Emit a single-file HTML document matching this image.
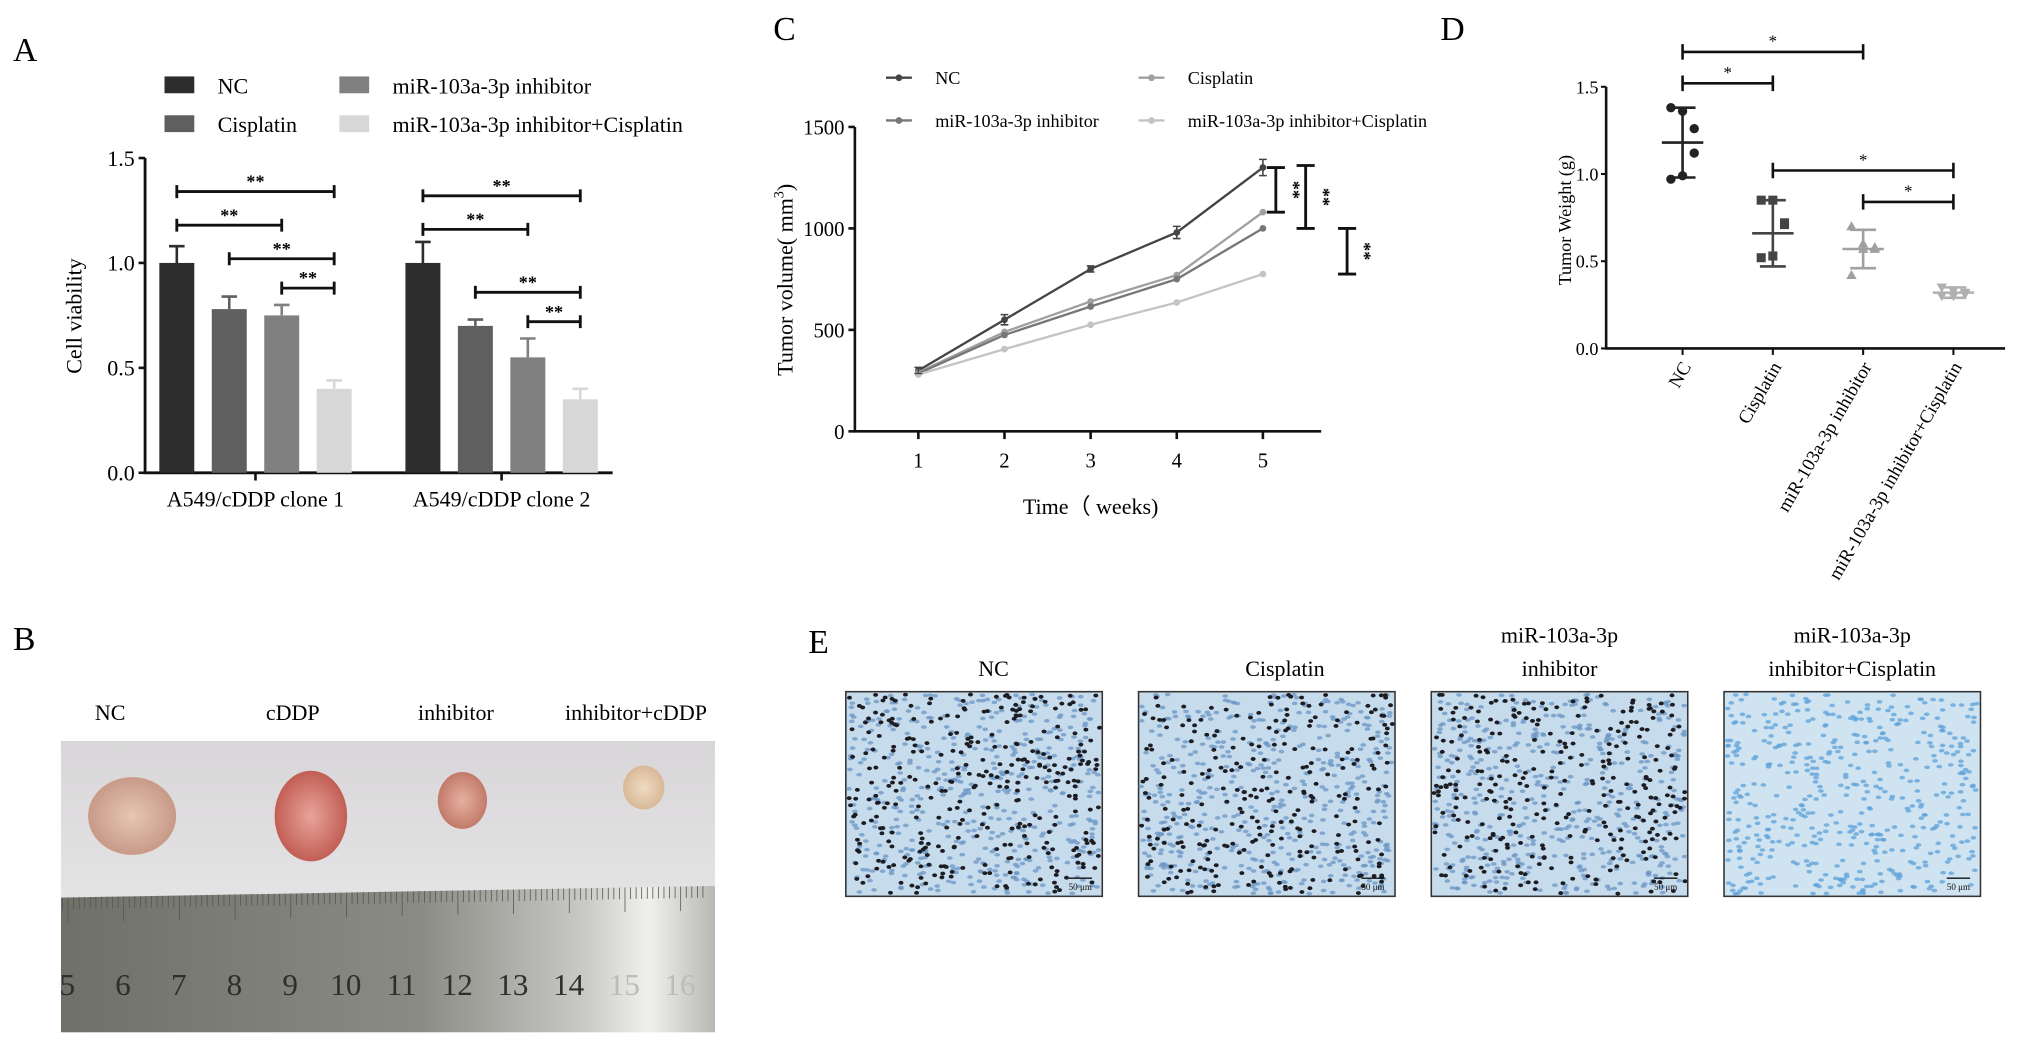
<!DOCTYPE html>
<html><head><meta charset="utf-8"><style>
html,body{margin:0;padding:0;background:#fff;}
svg{display:block;font-family:"Liberation Serif",serif;}
</style></head><body>
<svg id="fig" width="2031" height="1044" viewBox="0 0 1568 806">
<rect width="1568" height="806" fill="#fff"/>
<defs>
<linearGradient id="rulerG" x1="0" y1="0" x2="1" y2="0">
<stop offset="0" stop-color="#6f7068"/><stop offset="0.55" stop-color="#8a8b84"/><stop offset="0.8" stop-color="#c9cac6"/><stop offset="0.9" stop-color="#f0f0ee"/><stop offset="1" stop-color="#b7b8b2"/>
</linearGradient>
<linearGradient id="bgG" x1="0" y1="0" x2="0" y2="1">
<stop offset="0" stop-color="#d8d6d8"/><stop offset="1" stop-color="#efeeef"/>
</linearGradient>
<radialGradient id="t1"><stop offset="0" stop-color="#e6c6b4"/><stop offset="1" stop-color="#c89a88"/></radialGradient>
<radialGradient id="t2"><stop offset="0" stop-color="#e8a49a"/><stop offset="1" stop-color="#c25e55"/></radialGradient>
<radialGradient id="t3"><stop offset="0" stop-color="#e6b0a0"/><stop offset="1" stop-color="#c27a6a"/></radialGradient>
<radialGradient id="t4"><stop offset="0" stop-color="#f0dcc2"/><stop offset="1" stop-color="#d8b898"/></radialGradient>
<clipPath id="photoClip"><rect x="47" y="572" width="505" height="225"/></clipPath>
</defs>

<text x="10" y="47" font-size="26">A</text>
<text x="597" y="31" font-size="26">C</text>
<text x="1112" y="31" font-size="26">D</text>
<text x="10" y="502" font-size="26">B</text>
<text x="624" y="504" font-size="26">E</text>

<g id="panelA"></g>
<g id="panelC"></g>
<g id="panelD"></g>

<g>
<text x="85" y="556" font-size="17" text-anchor="middle">NC</text>
<text x="226" y="556" font-size="17" text-anchor="middle">cDDP</text>
<text x="352" y="556" font-size="17" text-anchor="middle">inhibitor</text>
<text x="491" y="556" font-size="17" text-anchor="middle">inhibitor+cDDP</text>
<g clip-path="url(#photoClip)">
<rect x="47" y="572" width="505" height="225" fill="url(#bgG)"/>
<polygon points="47,693 552,684 552,797 47,797" fill="url(#rulerG)"/>
<g id="rulerTicks"></g>
</g>
<ellipse cx="102" cy="630" rx="34" ry="30" fill="url(#t1)"/>
<ellipse cx="240" cy="630" rx="28" ry="35" fill="url(#t2)"/>
<ellipse cx="357" cy="618" rx="19" ry="22" fill="url(#t3)"/>
<ellipse cx="497" cy="608" rx="16" ry="17" fill="url(#t4)"/>
</g>

<g id="panelE">
<text x="767" y="522" font-size="17" text-anchor="middle">NC</text>
<text x="992" y="522" font-size="17" text-anchor="middle">Cisplatin</text>
<text x="1204" y="496" font-size="17" text-anchor="middle"><tspan x="1204">miR-103a-3p</tspan><tspan x="1204" dy="26">inhibitor</tspan></text>
<text x="1430" y="496" font-size="17" text-anchor="middle"><tspan x="1430">miR-103a-3p</tspan><tspan x="1430" dy="26">inhibitor+Cisplatin</tspan></text>
</g>
</svg>

<script>
const NS='http://www.w3.org/2000/svg';
function mk(parent,tag,attrs,txt){const e=document.createElementNS(NS,tag);for(const k in attrs)e.setAttribute(k,attrs[k]);if(txt!==undefined)e.textContent=txt;parent.appendChild(e);return e;}

// ===== Panel A data =====
const aGroups=['A549/cDDP clone 1','A549/cDDP clone 2'];
const aSeries=['NC','Cisplatin','miR-103a-3p inhibitor','miR-103a-3p inhibitor+Cisplatin'];
const aMeans=[[1.00,0.78,0.75,0.40],[1.00,0.70,0.55,0.35]];
const aErrs=[[0.08,0.06,0.05,0.04],[0.10,0.03,0.09,0.05]];
const aTicks=[0,0.5,1.0,1.5];
const aTickLabels=['0.0','0.5','1.0','1.5'];
const aColors=['#2d2d2d','#5f5f5f','#808080','#d7d7d7'];
const aSig=[[0,0,3,1.34],[0,0,2,1.18],[0,1,3,1.02],[0,2,3,0.88],[1,0,3,1.32],[1,0,2,1.16],[1,1,3,0.86],[1,2,3,0.72]];

(function(){
const g=document.getElementById('panelA');
const x0=112,x1=473,yb=365,yt=122;
const y=v=>yb-(v/1.5)*(yb-yt);
const gx=[123,313],bw=27,step=40.5;
const bx=(gi,bi)=>gx[gi]+bi*step;
[[0,127,59],[1,127,89],[2,262,59],[3,262,89]].forEach(([s,lx,ly])=>{
 const r=mk(g,'rect',{x:lx,y:ly,width:23,height:13,fill:aColors[s]});
 
 
 const t=mk(g,'text',{x:lx+41,y:ly+13,'font-size':17},aSeries[s]);
 
 
});
const ax=mk(g,'path',{d:`M${x0} ${yt}V${yb}H${x1}`,stroke:'#111','stroke-width':2.2,fill:'none'});


aTicks.forEach((v,i)=>{
 mk(g,'line',{x1:x0-5,x2:x0,y1:y(v),y2:y(v),stroke:'#111','stroke-width':2});
 const t=mk(g,'text',{x:x0-8,y:y(v)+6,'font-size':17,'text-anchor':'end'},aTickLabels[i]);
 
 
});
const yl=mk(g,'text',{x:0,y:0,'font-size':17,'text-anchor':'middle',transform:`translate(63,244) rotate(-90)`},'Cell viability');


aGroups.forEach((name,gi)=>{
 const cx=bx(gi,0)+(3*step+bw)/2;
 mk(g,'line',{x1:cx,x2:cx,y1:yb,y2:yb+6,stroke:'#111','stroke-width':2});
 const t=mk(g,'text',{x:cx,y:yb+26,'font-size':17,'text-anchor':'middle'},name);
 
 
 aMeans[gi].forEach((m,bi)=>{
  const X=bx(gi,bi),top=y(m),et=y(m+aErrs[gi][bi]);
  const r=mk(g,'rect',{x:X,y:top,width:bw,height:yb-top,fill:aColors[bi]});
  
  
  mk(g,'path',{d:`M${X+bw/2} ${top}V${et}M${X+bw/2-6} ${et}H${X+bw/2+6}`,stroke:aColors[bi],'stroke-width':2});
 });
});
aSig.forEach(([gi,a,b,v])=>{
 const xa=bx(gi,a)+bw/2,xb=bx(gi,b)+bw/2,yy=y(v);
 const p=mk(g,'path',{d:`M${xa} ${yy-5}V${yy+5}M${xa} ${yy}H${xb}M${xb} ${yy-5}V${yy+5}`,stroke:'#111','stroke-width':2.2,fill:'none'});
 
 
 mk(g,'text',{x:(xa+xb)/2,y:yy-3,'font-size':14,'text-anchor':'middle','font-weight':'bold'},'**');
});
})();

// ===== Panel C data =====
const cWeeks=[1,2,3,4,5];
const cNC=[300,550,800,980,1300];
const cCis=[290,490,640,770,1080];
const cInh=[285,475,615,750,1000];
const cCombo=[280,405,525,635,775];
const cNCerr=[15,25,15,30,40];
const cYTicks=[0,500,1000,1500];
const cSeriesNames=['NC','Cisplatin','miR-103a-3p inhibitor','miR-103a-3p inhibitor+Cisplatin'];
const cColors=['#444','#a0a0a0','#777','#c4c4c4'];
const cSig=[[1300,1080,985],[1310,1000,1008],[1000,775,1040]];

(function(){
const g=document.getElementById('panelC');
const x0=660,x1=1020,yb=333,yt=98;
const y=v=>yb-(v/1500)*(yb-yt);
const x=w=>709+(w-1)*66.5;
mk(g,'path',{d:`M${x0} ${yt}V${yb}H${x1}`,stroke:'#111','stroke-width':2,fill:'none'});
cYTicks.forEach(v=>{
 mk(g,'line',{x1:x0-5,x2:x0,y1:y(v),y2:y(v),stroke:'#111','stroke-width':2});
 const t=mk(g,'text',{x:x0-8,y:y(v)+6,'font-size':16,'text-anchor':'end'},String(v));
 
 
});
cWeeks.forEach(w=>{
 mk(g,'line',{x1:x(w),x2:x(w),y1:yb,y2:yb+6,stroke:'#111','stroke-width':2});
 const t=mk(g,'text',{x:x(w),y:yb+28,'font-size':16,'text-anchor':'middle'},String(w));
 
 
});
const xt=mk(g,'text',{x:842,y:397,'font-size':17,'text-anchor':'middle'},'Time（ weeks)');


const yt2=mk(g,'text',{x:0,y:0,'font-size':17,'text-anchor':'middle',transform:'translate(612,216) rotate(-90)'});
mk(yt2,'tspan',{},'Tumor volume( mm');
mk(yt2,'tspan',{dy:-7,'font-size':11},'3');
mk(yt2,'tspan',{dy:7},')');


const series=[cNC,cCis,cInh,cCombo];
series.forEach((s,si)=>{
 const pl=mk(g,'polyline',{points:s.map((v,i)=>x(cWeeks[i])+','+y(v)).join(' '),fill:'none',stroke:cColors[si],'stroke-width':1.8});
 
 
 s.forEach((v,i)=>{
  const c=mk(g,'circle',{cx:x(cWeeks[i]),cy:y(v),r:2.6,fill:cColors[si]});
  
  
 });
});
cNC.forEach((v,i)=>{
 const e=cNCerr[i],X=x(cWeeks[i]);
 mk(g,'path',{d:`M${X} ${y(v+e)}V${y(v-e)}M${X-3} ${y(v+e)}H${X+3}M${X-3} ${y(v-e)}H${X+3}`,stroke:'#444','stroke-width':1.2});
});
[[0,684,60],[1,879,60],[2,684,93],[3,879,93]].forEach(([s,lx,ly])=>{
 mk(g,'line',{x1:lx,x2:lx+20,y1:ly,y2:ly,stroke:cColors[s],'stroke-width':1.8});
 mk(g,'circle',{cx:lx+10,cy:ly,r:2.6,fill:cColors[s]});
 const t=mk(g,'text',{x:lx+38,y:ly+5,'font-size':14},cSeriesNames[s]);
 
 
});
cSig.forEach(([a,b,bx])=>{
 const ya=y(a),yb2=y(b);
 const p=mk(g,'path',{d:`M${bx-7} ${ya}H${bx+7}M${bx} ${ya}V${yb2}M${bx-7} ${yb2}H${bx+7}`,stroke:'#111','stroke-width':2.2,fill:'none'});
 
 
 mk(g,'text',{x:0,y:0,'font-size':14,'font-weight':'bold','text-anchor':'middle',transform:`translate(${bx+9},${(ya+yb2)/2}) rotate(90)`},'**');
});
})();

// ===== Panel D data =====
const dCats=['NC','Cisplatin','miR-103a-3p  inhibitor','miR-103a-3p inhibitor+Cisplatin'];
const dPoints=[[1.38,1.36,1.26,1.12,0.99,0.97],[0.85,0.85,0.72,0.71,0.53,0.52],[0.70,0.60,0.58,0.57,0.57,0.42],[0.35,0.33,0.32,0.31,0.30,0.30]];
const dMeans=[1.18,0.66,0.57,0.32];
const dSD=[0.20,0.19,0.11,0.03];
const dYTicks=[0,0.5,1.0,1.5];
const dYLabels=['0.0','0.5','1.0','1.5'];
const dColors=['#222','#444','#a0a0a0','#b0b0b0'];
const dSig=[[0,2,1.70],[0,1,1.52],[1,3,1.02],[2,3,0.84]];

(function(){
const g=document.getElementById('panelD');
const x0=1240,x1=1548,yb=269,yt=67;
const y=v=>yb-(v/1.5)*(yb-yt);
const x=i=>1299+i*69.7;
mk(g,'path',{d:`M${x0} ${yt}V${yb}H${x1}`,stroke:'#111','stroke-width':2,fill:'none'});
dYTicks.forEach((v,i)=>{
 mk(g,'line',{x1:x0-4,x2:x0,y1:y(v),y2:y(v),stroke:'#111','stroke-width':1.6});
 const t=mk(g,'text',{x:x0-6,y:y(v)+5,'font-size':14,'text-anchor':'end'},dYLabels[i]);
 
 
});
const ylab=mk(g,'text',{x:0,y:0,'font-size':14,'text-anchor':'middle',transform:'translate(1213,170) rotate(-90)'},'Tumor Weight (g)');


dCats.forEach((c,i)=>{
 mk(g,'line',{x1:x(i),x2:x(i),y1:yb,y2:yb+5,stroke:'#111','stroke-width':1.6});
 const t=mk(g,'text',{x:0,y:0,'font-size':14.5,'text-anchor':'end',transform:`translate(${x(i)+7},${yb+14}) rotate(-60)`},c);
 
 
 const m=dMeans[i],s=dSD[i],X=x(i);
 mk(g,'path',{d:`M${X-16} ${y(m)}H${X+16}M${X} ${y(m+s)}V${y(m-s)}M${X-10} ${y(m+s)}H${X+10}M${X-10} ${y(m-s)}H${X+10}`,stroke:dColors[i],'stroke-width':2,fill:'none'});
 dPoints[i].forEach((v,j)=>{
  const px=X+((j%3)-1)*9*(j<3?1:-1);
  let el;
  if(i===0) el=mk(g,'circle',{cx:px,cy:y(v),r:3.6,fill:dColors[i]});
  else if(i===1) el=mk(g,'rect',{x:px-3.5,y:y(v)-3.5,width:7,height:7,fill:dColors[i]});
  else if(i===2) el=mk(g,'path',{d:`M${px} ${y(v)-4}L${px+4} ${y(v)+3}L${px-4} ${y(v)+3}Z`,fill:dColors[i]});
  else el=mk(g,'path',{d:`M${px} ${y(v)+4}L${px+4} ${y(v)-3}L${px-4} ${y(v)-3}Z`,fill:dColors[i]});
  
  
 });
});
dSig.forEach(([a,b,v])=>{
 const yy=y(v);
 const p=mk(g,'path',{d:`M${x(a)} ${yy-6}V${yy+6}M${x(a)} ${yy}H${x(b)}M${x(b)} ${yy-6}V${yy+6}`,stroke:'#111','stroke-width':2,fill:'none'});
 
 
 mk(g,'text',{x:(x(a)+x(b))/2,y:yy-4,'font-size':13,'text-anchor':'middle'},'*');
});
})();

// ===== Ruler marks =====
(function(){
const g=document.getElementById('rulerTicks');
const nums=['5','6','7','8','9','10','11','12','13','14','15','16'];
nums.forEach((n,i)=>{
 const X=52+i*43;
 const t=mk(g,'text',{x:X,y:768,'font-size':24,'text-anchor':'middle',fill:i>=10?'#bbb':'#2e2e2a'},n);
 
 
 for(let k=0;k<10;k++){const xx=X-21+k*4.3;mk(g,'line',{x1:xx,x2:xx,y1:693-(xx-47)*0.018,y2:(k===5?712:702)-(xx-47)*0.018,stroke:'#55554f','stroke-width':0.6});}
});
})();

// ===== IHC images (texture) =====
(function(){
const g=document.getElementById('panelE');
const xs=[653,879,1105,1331],w=198,h=158,y0=534;
const dens=[330,270,300,0];
let seed=12345;const rnd=()=>{seed=(seed*1103515245+12345)%2147483648;return seed/2147483648;};
xs.forEach((X,k)=>{
 const r=mk(g,'rect',{x:X,y:y0,width:w,height:h,fill:k===3?'#cfe3f1':'#c6dbeb',stroke:'#333','stroke-width':1.2});
 
 
 for(let i=0;i<480;i++){mk(g,'ellipse',{cx:X+2+rnd()*(w-4),cy:y0+2+rnd()*(h-4),rx:2.2,ry:1.4,fill:k===3?'#5ea2d8':'#6b95c6',opacity:0.75});}
 for(let i=0;i<dens[k];i++){mk(g,'ellipse',{cx:X+2+rnd()*(w-4),cy:y0+2+rnd()*(h-4),rx:1.9,ry:1.5,fill:'#1c1c22'});}
 mk(g,'line',{x1:X+w-26,x2:X+w-8,y1:y0+h-14,y2:y0+h-14,stroke:'#111','stroke-width':1});
 const t=mk(g,'text',{x:X+w-17,y:y0+h-5,'font-size':7,'text-anchor':'middle',fill:'#111'},'50 μm');
 
 
});
})();
</script>
</body></html>
